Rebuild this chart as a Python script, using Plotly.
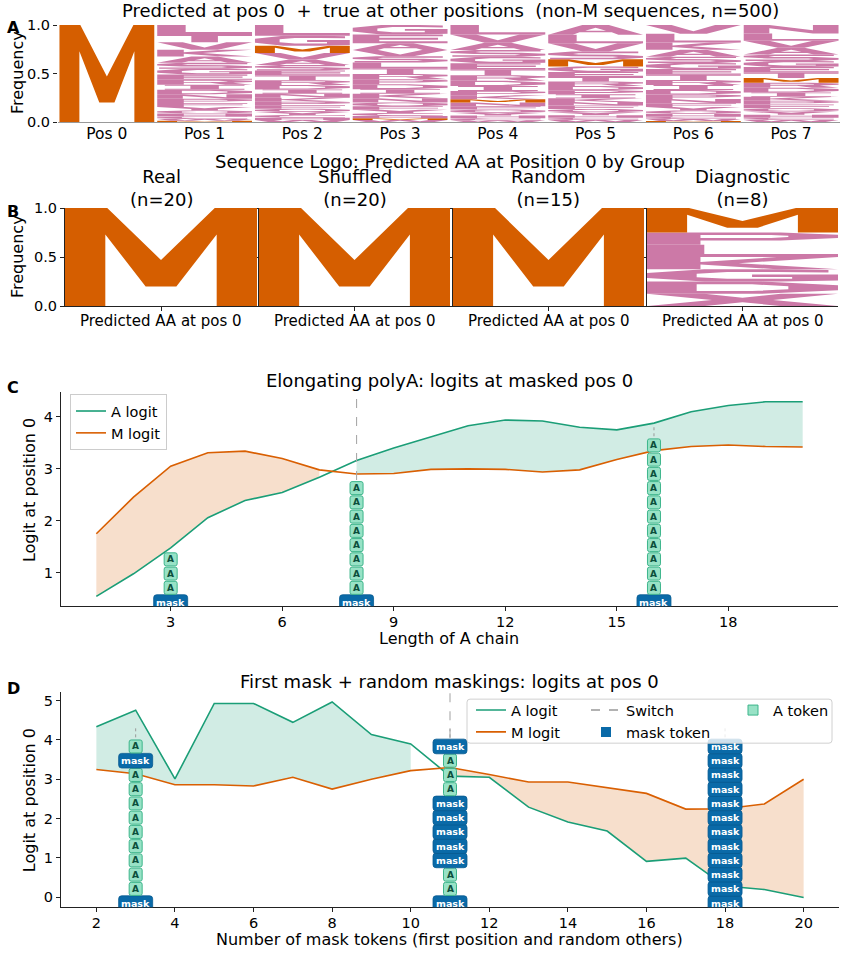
import plotly.graph_objects as go

# ------------------------------------------------------------------ data
POS_LABELS = ["Pos 0", "Pos 1", "Pos 2", "Pos 3", "Pos 4", "Pos 5", "Pos 6", "Pos 7"]
# letter stacks, bottom -> top
POS0_LETTERS = "M"
POS0_FREQS = [1.0]
POS1_LETTERS = "MWCHQYFPNDIREGSAKVTL"
POS1_FREQS = [0.012, 0.02, 0.025, 0.03, 0.033, 0.036, 0.04, 0.043, 0.046, 0.048, 0.05, 0.052, 0.055, 0.058, 0.062, 0.066, 0.07, 0.075, 0.085, 0.094]
POS2_LETTERS = "WHCYQFPKNIDRTESAVMGL"
POS2_FREQS = [0.02, 0.025, 0.028, 0.03, 0.033, 0.036, 0.038, 0.04, 0.042, 0.044, 0.046, 0.048, 0.05, 0.052, 0.055, 0.058, 0.067, 0.073, 0.105, 0.11]
POS3_LETTERS = "WMHCYFQNKIDPRTLSVAEG"
POS3_FREQS = [0.021, 0.017, 0.025, 0.03, 0.033, 0.036, 0.04, 0.043, 0.046, 0.048, 0.05, 0.052, 0.055, 0.058, 0.06, 0.063, 0.066, 0.07, 0.09, 0.097]
POS4_LETTERS = "WCHYQFNMKPIDRTEGSAVL"
POS4_FREQS = [0.018, 0.022, 0.026, 0.03, 0.032, 0.035, 0.037, 0.035, 0.04, 0.045, 0.05, 0.055, 0.058, 0.06, 0.063, 0.066, 0.07, 0.075, 0.085, 0.098]
POS5_LETTERS = "WCHYQFNKIPDRTEGMSVLA"
POS5_FREQS = [0.02, 0.024, 0.027, 0.03, 0.033, 0.035, 0.037, 0.039, 0.04, 0.042, 0.044, 0.046, 0.048, 0.05, 0.058, 0.073, 0.08, 0.085, 0.089, 0.1]
POS6_LETTERS = "MWCHQYFNPDIRTEGSAKLV"
POS6_FREQS = [0.01, 0.02, 0.025, 0.03, 0.033, 0.036, 0.04, 0.043, 0.046, 0.048, 0.05, 0.052, 0.055, 0.058, 0.062, 0.066, 0.07, 0.075, 0.09, 0.091]
POS7_LETTERS = "WCHYQFPKIDRMTEGSAVLN"
POS7_FREQS = [0.02, 0.025, 0.03, 0.033, 0.035, 0.037, 0.039, 0.041, 0.045, 0.049, 0.052, 0.049, 0.055, 0.058, 0.062, 0.065, 0.07, 0.072, 0.075, 0.088]

GROUPS = ["Real", "Shuffled", "Random", "Diagnostic"]
GROUP_N = [20, 20, 15, 8]
GROUP_LETTERS = ["M", "M", "M", "XDGKLPM"]
GROUP_FREQS = [[1.0], [1.0], [1.0], [0.125, 0.125, 0.125, 0.125, 0.125, 0.125, 0.25]]

C_LEN = list(range(1, 21))
C_A = [0.545, 0.98, 1.48, 2.06, 2.39, 2.545, 2.84, 3.16, 3.40, 3.61, 3.83, 3.94, 3.92, 3.80, 3.75, 3.88, 4.10, 4.22, 4.29, 4.29]
C_M = [1.75, 2.455, 3.05, 3.31, 3.34, 3.20, 2.98, 2.90, 2.91, 2.99, 3.00, 2.99, 2.94, 2.98, 3.18, 3.35, 3.43, 3.46, 3.43, 3.42]
C_SWITCH = 8
C_STACK_X = [3, 8, 16]
C_STACK_TOKENS = ["MAAA", "MAAAAAAAA", "MAAAAAAAAAAA"]   # M = mask, A = alanine (shown, bottom->top)
C_STACK_TRUNC = [False, False, True]

D_N = list(range(2, 21))
D_A = [4.34, 4.76, 3.01, 4.93, 4.93, 4.45, 4.97, 4.14, 3.90, 3.08, 3.05, 2.29, 1.91, 1.68, 0.91, 0.99, 0.28, 0.19, -0.01]
D_M = [3.25, 3.14, 2.86, 2.86, 2.83, 3.05, 2.75, 3.00, 3.22, 3.30, 3.12, 2.93, 2.93, 2.79, 2.64, 2.24, 2.25, 2.37, 3.00]
D_SWITCH = 11
D_STACK_X = [3, 11, 18]
D_STACK_TOKENS = ["MAAAAAAAAAMA", "MAAMMMMMAAAM", "MMMMMMMMMMMM"]
D_STACK_TRUNC = [True, True, True]

# ------------------------------------------------------------------ style
FW, FH = 844, 953
TY0, TSY = 8.0, 0.983          # vertical placement correction of the page capture
FONT = "DejaVu Sans"
ORANGE = "#D55E00"
PINK = "#CC79A7"
A_COL = "#1b9e77"
M_COL = "#d95f02"
A_FILL = "rgba(27,158,119,0.2)"
M_FILL = "rgba(217,95,2,0.2)"
MASK_COL = "#0a6aa8"
ATOK_FILL = "#98e2c6"
ATOK_EDGE = "#3db58b"
ATOK_TEXT = "#0b4f3b"
AXC = "#222222"
TITLE_FS = 18
LABEL_FS = 16
BLABEL_FS = 15
TICK_FS = 14.5

# glyph outlines in a unit box (u right, v up); several polygons -> even-odd fill
OCT_OUT = [(0.3, 0), (0, 0.3), (0, 0.7), (0.3, 1), (0.7, 1), (1, 0.7), (1, 0.3), (0.7, 0)]
OCT_IN = [(0.42, 0.22), (0.26, 0.36), (0.26, 0.64), (0.42, 0.78), (0.58, 0.78), (0.74, 0.64), (0.74, 0.36), (0.58, 0.22)]
GLYPHS = {
    "M": [[(0, 0), (0, 1), (0.22, 1), (0.5, 0.47), (0.78, 1), (1, 1), (1, 0), (0.79, 0), (0.79, 0.73),
           (0.58, 0.2), (0.42, 0.2), (0.21, 0.73), (0.21, 0)]],
    "A": [[(0, 0), (0.36, 1), (0.64, 1), (1, 0), (0.74, 0), (0.67, 0.24), (0.33, 0.24), (0.26, 0)],
          [(0.39, 0.42), (0.61, 0.42), (0.5, 0.72)]],
    "C": [[(0.95, 0.05), (0.7, 0), (0.3, 0), (0, 0.3), (0, 0.7), (0.3, 1), (0.7, 1), (0.95, 0.95), (0.95, 0.74),
           (0.68, 0.78), (0.42, 0.78), (0.26, 0.64), (0.26, 0.36), (0.42, 0.22), (0.68, 0.22), (0.95, 0.26)]],
    "G": [[(0.3, 0), (0, 0.3), (0, 0.7), (0.3, 1), (0.7, 1), (0.95, 0.95), (0.95, 0.74), (0.68, 0.78), (0.42, 0.78),
           (0.26, 0.64), (0.26, 0.36), (0.42, 0.22), (0.76, 0.22), (0.76, 0.38), (0.55, 0.38), (0.55, 0.58),
           (1, 0.58), (1, 0.08), (0.7, 0)]],
    "D": [[(0, 0), (0, 1), (0.6, 1), (1, 0.7), (1, 0.3), (0.6, 0)],
          [(0.26, 0.22), (0.26, 0.78), (0.55, 0.78), (0.74, 0.62), (0.74, 0.38), (0.55, 0.22)]],
    "E": [[(0, 0), (0, 1), (0.95, 1), (0.95, 0.78), (0.28, 0.78), (0.28, 0.61), (0.9, 0.61), (0.9, 0.39),
           (0.28, 0.39), (0.28, 0.22), (1, 0.22), (1, 0)]],
    "F": [[(0, 0), (0, 1), (0.95, 1), (0.95, 0.78), (0.28, 0.78), (0.28, 0.61), (0.9, 0.61), (0.9, 0.39),
           (0.28, 0.39), (0.28, 0)]],
    "H": [[(0, 0), (0, 1), (0.28, 1), (0.28, 0.62), (0.72, 0.62), (0.72, 1), (1, 1), (1, 0), (0.72, 0),
           (0.72, 0.38), (0.28, 0.38), (0.28, 0)]],
    "I": [[(0.08, 0), (0.08, 0.2), (0.35, 0.2), (0.35, 0.8), (0.08, 0.8), (0.08, 1), (0.92, 1), (0.92, 0.8),
           (0.65, 0.8), (0.65, 0.2), (0.92, 0.2), (0.92, 0)]],
    "K": [[(0, 0), (0, 1), (0.28, 1), (0.28, 0.6), (0.68, 1), (1, 1), (0.48, 0.5), (1, 0), (0.68, 0),
           (0.28, 0.4), (0.28, 0)]],
    "L": [[(0, 0), (0, 1), (0.3, 1), (0.3, 0.24), (1, 0.24), (1, 0)]],
    "N": [[(0, 0), (0, 1), (0.27, 1), (0.73, 0.38), (0.73, 1), (1, 1), (1, 0), (0.73, 0), (0.27, 0.62), (0.27, 0)]],
    "P": [[(0, 0), (0, 1), (0.7, 1), (1, 0.82), (1, 0.55), (0.7, 0.36), (0.28, 0.36), (0.28, 0)],
          [(0.28, 0.56), (0.28, 0.8), (0.65, 0.8), (0.74, 0.73), (0.74, 0.63), (0.65, 0.56)]],
    "R": [[(0, 0), (0, 1), (0.7, 1), (1, 0.82), (1, 0.58), (0.8, 0.44), (1, 0), (0.72, 0), (0.56, 0.4),
           (0.28, 0.4), (0.28, 0)],
          [(0.28, 0.58), (0.28, 0.8), (0.65, 0.8), (0.74, 0.73), (0.74, 0.65), (0.65, 0.58)]],
    "Q": [OCT_OUT, OCT_IN],
    "S": [[(0.95, 1), (0.25, 1), (0, 0.8), (0, 0.56), (0.25, 0.4), (0.68, 0.38), (0.74, 0.3), (0.68, 0.22),
           (0.02, 0.22), (0.02, 0), (0.75, 0), (1, 0.2), (1, 0.44), (0.75, 0.6), (0.32, 0.62), (0.26, 0.7),
           (0.32, 0.78), (0.95, 0.78)]],
    "T": [[(0, 1), (1, 1), (1, 0.78), (0.64, 0.78), (0.64, 0), (0.36, 0), (0.36, 0.78), (0, 0.78)]],
    "V": [[(0, 1), (0.27, 1), (0.5, 0.3), (0.73, 1), (1, 1), (0.64, 0), (0.36, 0)]],
    "W": [[(0, 1), (0.2, 1), (0.29, 0.35), (0.4, 1), (0.6, 1), (0.71, 0.35), (0.8, 1), (1, 1), (0.86, 0),
           (0.63, 0), (0.5, 0.6), (0.37, 0), (0.14, 0)]],
    "X": [[(0, 1), (0.3, 1), (0.5, 0.68), (0.7, 1), (1, 1), (0.66, 0.5), (1, 0), (0.7, 0), (0.5, 0.32),
           (0.3, 0), (0, 0), (0.34, 0.5)]],
    "Y": [[(0, 1), (0.3, 1), (0.5, 0.62), (0.7, 1), (1, 1), (0.64, 0.42), (0.64, 0), (0.36, 0), (0.36, 0.42)]],
}


def glyph_path(letter, x0, x1, y0, y1):
    parts = []
    for poly in GLYPHS[letter]:
        pts = [f"{x0 + (x1 - x0) * u:.5f},{y0 + (y1 - y0) * v:.5f}" for u, v in poly]
        parts.append("M" + " L".join(pts) + " Z")
    return " ".join(parts)


def fig_y(p):
    return (p - TY0) / TSY


def px_x(p):
    return p / FW


def px_y(p):
    return 1 - fig_y(p) / FH


def dom_x(a, b):
    return [px_x(a), px_x(b)]


def dom_y(top, bottom):
    return [px_y(bottom), px_y(top)]


def rrect(xl, xr, yb, yt, r):
    return (f"M{xl + r},{yb} L{xr - r},{yb} Q{xr},{yb} {xr},{yb + r} L{xr},{yt - r} Q{xr},{yt} {xr - r},{yt} "
            f"L{xl + r},{yt} Q{xl},{yt} {xl},{yt - r} L{xl},{yb + r} Q{xl},{yb} {xl + r},{yb} Z")


def padded(vals, frac=0.05):
    lo, hi = min(vals), max(vals)
    p = (hi - lo) * frac
    return [lo - p, hi + p]


shapes = []
annotations = []
fig = go.Figure()

# ------------------------------------------------------------------ panel A
POS_STACKS = [(POS0_LETTERS, POS0_FREQS), (POS1_LETTERS, POS1_FREQS), (POS2_LETTERS, POS2_FREQS),
              (POS3_LETTERS, POS3_FREQS), (POS4_LETTERS, POS4_FREQS), (POS5_LETTERS, POS5_FREQS),
              (POS6_LETTERS, POS6_FREQS), (POS7_LETTERS, POS7_FREQS)]
for i, (letters, freqs) in enumerate(POS_STACKS):
    base = 0.0
    for L, f in zip(letters, freqs):
        shapes.append(dict(type="path", xref="x", yref="y", layer="above",
                           path=glyph_path(L, i - 0.485, i + 0.485, base, base + f),
                           fillcolor=ORANGE if L == "M" else PINK, line=dict(width=0)))
        base += f

# ------------------------------------------------------------------ panel B
B_BOX = [(65, 257), (259, 450), (453, 644), (647, 838)]
for g in range(4):
    xr = f"x{g + 2}"
    yr = f"y{g + 2}"
    base = 0.0
    for L, f in zip(GROUP_LETTERS[g], GROUP_FREQS[g]):
        shapes.append(dict(type="path", xref=xr, yref=yr, layer="above",
                           path=glyph_path(L, -0.5, 0.5, base, base + f),
                           fillcolor=ORANGE if L == "M" else PINK, line=dict(width=0)))
        base += f


# ------------------------------------------------------------------ panels C & D
def fill_runs(xs, top, bot, color, xa, ya):
    n = len(xs)
    i = 0
    while i < n:
        if top[i] > bot[i]:
            j = i
            while j + 1 < n and top[j + 1] > bot[j + 1]:
                j += 1
            if j > i:
                px = xs[i:j + 1] + xs[i:j + 1][::-1]
                py = top[i:j + 1] + bot[i:j + 1][::-1]
                fig.add_trace(go.Scatter(x=px, y=py, fill="toself", fillcolor=color, mode="lines",
                                         line=dict(width=0), showlegend=False, hoverinfo="skip",
                                         xaxis=xa, yaxis=ya))
            i = j + 1
        else:
            i += 1


PITCH = 14 / TSY
BASE = -3 / TSY
HALF_M = 7.2 / TSY
HALF_A = 6.4 / TSY


def add_stack(xref, yref, x, y0, tokens, trunc):
    for k, t in enumerate(tokens):
        cy = BASE + PITCH * (k + 0.5)
        if t == "M":
            shapes.append(dict(type="path", xref=xref, yref=yref, xsizemode="pixel", ysizemode="pixel",
                               xanchor=x, yanchor=y0, layer="above",
                               path=rrect(-17, 17, cy - HALF_M, cy + HALF_M, 3),
                               fillcolor=MASK_COL, line=dict(color="#075a90", width=0.8)))
            annotations.append(dict(xref=xref, yref=yref, x=x, y=y0, yshift=cy, showarrow=False,
                                    text="<b>mask</b>", font=dict(size=9.5, color="white", family=FONT),
                                    xanchor="center", yanchor="middle"))
        else:
            shapes.append(dict(type="path", xref=xref, yref=yref, xsizemode="pixel", ysizemode="pixel",
                               xanchor=x, yanchor=y0, layer="above",
                               path=rrect(-6.5, 6.5, cy - HALF_A, cy + HALF_A, 2),
                               fillcolor=ATOK_FILL, line=dict(color=ATOK_EDGE, width=1)))
            annotations.append(dict(xref=xref, yref=yref, x=x, y=y0, yshift=cy, showarrow=False,
                                    text="<b>A</b>", font=dict(size=9, color=ATOK_TEXT, family=FONT),
                                    xanchor="center", yanchor="middle"))
    top = BASE + PITCH * len(tokens)
    if trunc:
        shapes.append(dict(type="line", xref=xref, yref=yref, ysizemode="pixel", yanchor=y0,
                           x0=x, x1=x, y0=top + 2, y1=top + 13, layer="above",
                           line=dict(color="#999999", width=1, dash="dot")))
    return top


def line_panel(xs, A, M, xa, ya, legend, box, switch, stack_x, stack_tok, stack_tr):
    fill_runs(xs, M, A, M_FILL, xa, ya)
    fill_runs(xs, A, M, A_FILL, xa, ya)
    fig.add_trace(go.Scatter(x=xs, y=A, mode="lines", name="A logit", line=dict(color=A_COL, width=1.6),
                             xaxis=xa, yaxis=ya, legend=legend))
    fig.add_trace(go.Scatter(x=xs, y=M, mode="lines", name="M logit", line=dict(color=M_COL, width=1.6),
                             xaxis=xa, yaxis=ya, legend=legend))
    yr = padded(A + M)
    axis_h = fig_y(box[3]) - fig_y(box[2])
    tops = {}
    for x, tok, tr in zip(stack_x, stack_tok, stack_tr):
        tops[x] = add_stack(xa, ya, x, yr[0], tok, tr)
    shapes.append(dict(type="line", xref=xa, yref=ya, ysizemode="pixel", yanchor=yr[0],
                       x0=switch, x1=switch, y0=tops[switch] + 1, y1=axis_h, layer="above",
                       line=dict(color="#aaaaaa", width=1.1, dash="dash")))
    return yr


C_BOX = (61, 838, 392, 606)
D_BOX = (61, 839, 692, 907)
c_yr = line_panel(C_LEN, C_A, C_M, "x6", "y6", "legend", C_BOX, C_SWITCH, C_STACK_X, C_STACK_TOKENS, C_STACK_TRUNC)
d_yr = line_panel(D_N, D_A, D_M, "x7", "y7", "legend2", D_BOX, D_SWITCH, D_STACK_X, D_STACK_TOKENS, D_STACK_TRUNC)

# legend-only entries for panel D
fig.add_trace(go.Scatter(x=[None], y=[None], mode="lines", name="Switch",
                         line=dict(color="#999999", width=1.6, dash="dash"), xaxis="x7", yaxis="y7", legend="legend3"))
fig.add_trace(go.Scatter(x=[None], y=[None], mode="markers", name="mask token",
                         marker=dict(symbol="square", size=10, color=MASK_COL), xaxis="x7", yaxis="y7",
                         legend="legend3"))
fig.add_trace(go.Scatter(x=[None], y=[None], mode="markers", name="A token",
                         marker=dict(symbol="square", size=10, color=ATOK_FILL, line=dict(color=ATOK_EDGE, width=1)),
                         xaxis="x7", yaxis="y7", legend="legend4"))

# panel D legend frame (drawn over the stacks)
shapes.append(dict(type="path", xref="paper", yref="paper", layer="above",
                   path=(f"M{px_x(470)},{px_y(699)} L{px_x(829)},{px_y(699)} Q{px_x(832)},{px_y(699)} {px_x(832)},{px_y(702)} "
                         f"L{px_x(832)},{px_y(740)} Q{px_x(832)},{px_y(743)} {px_x(829)},{px_y(743)} "
                         f"L{px_x(470)},{px_y(743)} Q{px_x(467)},{px_y(743)} {px_x(467)},{px_y(740)} "
                         f"L{px_x(467)},{px_y(702)} Q{px_x(467)},{px_y(699)} {px_x(470)},{px_y(699)} Z"),
                   fillcolor="rgba(255,255,255,0.8)", line=dict(color="#d0d0d0", width=1)))


# ------------------------------------------------------------------ axes
def base_axis(**kw):
    d = dict(showgrid=False, zeroline=False, ticks="outside", ticklen=4, tickwidth=1, tickcolor=AXC,
             showline=True, linecolor=AXC, linewidth=1, tickfont=dict(size=TICK_FS, family=FONT, color="black"),
             fixedrange=True)
    d.update(kw)
    return d


layout_axes = {}
layout_axes["xaxis"] = base_axis(domain=dom_x(58, 840), range=[-0.5, 7.5], anchor="y",
                                 tickvals=list(range(8)), ticktext=POS_LABELS, ticks="", linecolor="#999999",
                                 ticklabelstandoff=-3,
                                 tickfont=dict(size=15.5, family=FONT, color="black"))
layout_axes["yaxis"] = base_axis(domain=dom_y(25, 122), range=[0, 1], anchor="x", showline=False,
                                 tickvals=[0, 0.5, 1], ticktext=["0.0", "0.5", "1.0"])
for g in range(4):
    a, b = B_BOX[g]
    layout_axes[f"xaxis{g + 2}"] = base_axis(domain=dom_x(a, b), range=[-0.5, 0.5], anchor=f"y{g + 2}",
                                             tickvals=[0], showticklabels=False)
    layout_axes[f"yaxis{g + 2}"] = base_axis(domain=dom_y(208, 306), range=[0, 1], anchor=f"x{g + 2}",
                                             tickvals=[0, 0.5, 1], ticktext=["0.0", "0.5", "1.0"],
                                             showticklabels=(g == 0))
layout_axes["xaxis6"] = base_axis(domain=dom_x(C_BOX[0], C_BOX[1]), range=padded(C_LEN), anchor="y6",
                                  tickvals=[3, 6, 9, 12, 15, 18], ticklabelstandoff=-2)
layout_axes["yaxis6"] = base_axis(domain=dom_y(C_BOX[2], C_BOX[3]), range=c_yr, anchor="x6", tickvals=[1, 2, 3, 4])
layout_axes["xaxis7"] = base_axis(domain=dom_x(D_BOX[0], D_BOX[1]), range=padded(D_N), anchor="y7",
                                  tickvals=list(range(2, 21, 2)), ticklabelstandoff=-2)
layout_axes["yaxis7"] = base_axis(domain=dom_y(D_BOX[2], D_BOX[3]), range=d_yr, anchor="x7",
                                  tickvals=[0, 1, 2, 3, 4, 5])


# ------------------------------------------------------------------ text
def txt(x, y, s, size, bold=False, angle=0, xanchor="center"):
    annotations.append(dict(xref="paper", yref="paper", x=px_x(x), y=px_y(y), text=f"<b>{s}</b>" if bold else s,
                            showarrow=False, textangle=angle, xanchor=xanchor, yanchor="middle",
                            font=dict(size=size, family=FONT, color="black")))


NB = "\u00a0"
txt(450, 10, f"Predicted at pos 0 {NB}+{NB} true at other positions {NB}(non-M sequences, n=500)", TITLE_FS)
txt(450, 161, "Sequence Logo: Predicted AA at Position 0 by Group", TITLE_FS)
for g in range(4):
    a, b = B_BOX[g]
    txt((a + b) / 2, 188, f"{GROUPS[g]}<br>(n={GROUP_N[g]})", TITLE_FS)
    txt((a + b) / 2, 321, "Predicted AA at pos 0", BLABEL_FS)
txt(449, 380, "Elongating polyA: logits at masked pos 0", TITLE_FS)
txt(449, 681, "First mask + random maskings: logits at pos 0", TITLE_FS)
txt(449, 638, "Length of A chain", LABEL_FS)
txt(449, 939, "Number of mask tokens (first position and random others)", LABEL_FS)
txt(17, 73, "Frequency", LABEL_FS, angle=-90)
txt(17, 257, "Frequency", LABEL_FS, angle=-90)
txt(29, 490, "Logit at position 0", LABEL_FS, angle=-90)
txt(29, 800, "Logit at position 0", LABEL_FS, angle=-90)
for lab, yy in [("A", 27), ("B", 211), ("C", 387), ("D", 688)]:
    txt(13, yy, lab, 16, bold=True)

leg_common = dict(xanchor="left", yanchor="top", font=dict(size=TICK_FS, family=FONT, color="black"),
                  tracegroupgap=0, orientation="v")
fig.update_layout(
    width=FW, height=FH, margin=dict(l=0, r=0, t=0, b=0),
    paper_bgcolor="white", plot_bgcolor="white",
    font=dict(family=FONT, size=14, color="black"),
    shapes=shapes, annotations=annotations, showlegend=True,
    legend=dict(x=px_x(70), y=px_y(394), bgcolor="rgba(255,255,255,0.8)", bordercolor="#cccccc", borderwidth=1,
                **leg_common),
    legend2=dict(x=px_x(471), y=px_y(694), bgcolor="rgba(0,0,0,0)", **leg_common),
    legend3=dict(x=px_x(586), y=px_y(694), bgcolor="rgba(0,0,0,0)", **leg_common),
    legend4=dict(x=px_x(733), y=px_y(694), bgcolor="rgba(0,0,0,0)", **leg_common),
    **layout_axes,
)

fig.write_html("out.html")
